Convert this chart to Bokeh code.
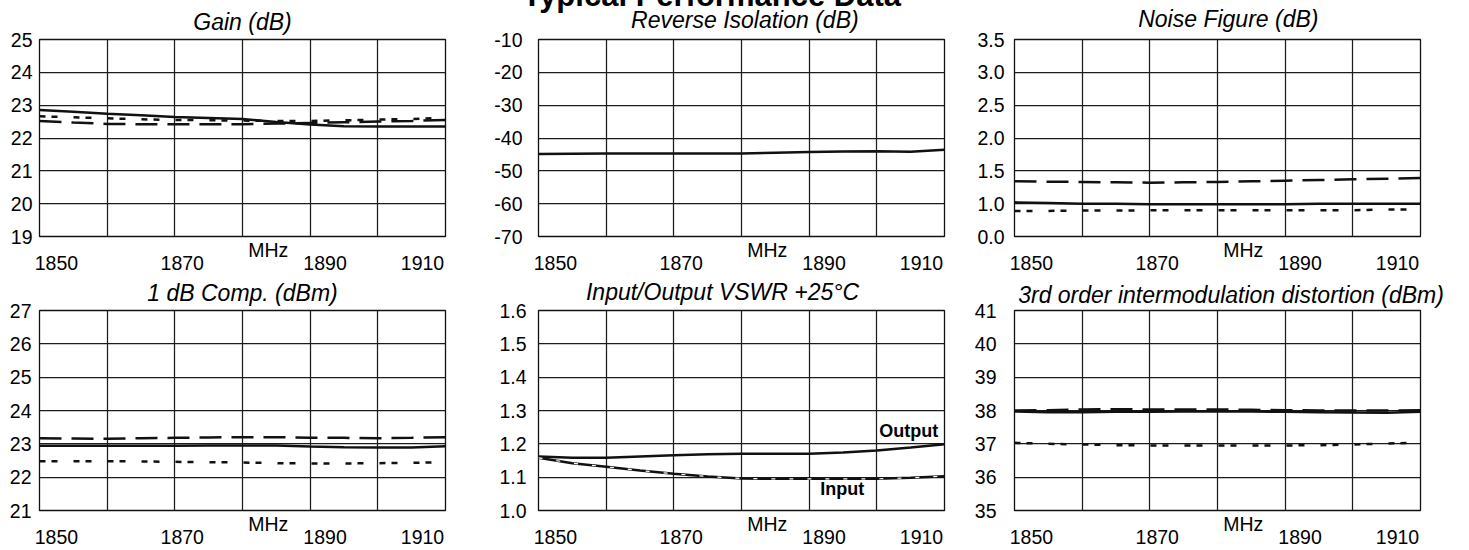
from bokeh.plotting import figure
from bokeh.models import FixedTicker, Label, Range1d
from bokeh.layouts import row, column
from bokeh.embed import file_html
from bokeh.resources import INLINE

# ---------------- data ----------------
freq = [1850, 1855, 1860, 1865, 1870, 1875, 1880, 1885, 1890, 1895, 1900, 1905, 1910]

gain_solid = [22.85, 22.80, 22.74, 22.69, 22.64, 22.61, 22.58, 22.49, 22.41, 22.36, 22.35, 22.35, 22.35]
gain_long = [22.52, 22.47, 22.43, 22.42, 22.42, 22.42, 22.42, 22.44, 22.46, 22.48, 22.50, 22.52, 22.55]
gain_short = [22.66, 22.63, 22.60, 22.57, 22.55, 22.54, 22.53, 22.52, 22.52, 22.54, 22.56, 22.58, 22.62]

iso_solid = [-44.9, -44.8, -44.7, -44.7, -44.7, -44.7, -44.7, -44.5, -44.3, -44.1, -44.0, -44.2, -43.6]

nf_solid = [1.02, 1.01, 1.00, 1.00, 0.99, 0.99, 0.99, 0.99, 0.99, 1.00, 1.00, 1.00, 1.00]
nf_long = [1.34, 1.335, 1.33, 1.325, 1.32, 1.325, 1.33, 1.34, 1.35, 1.36, 1.37, 1.38, 1.39]
nf_short = [0.89, 0.89, 0.895, 0.895, 0.90, 0.90, 0.90, 0.90, 0.90, 0.90, 0.90, 0.91, 0.915]

p1db_solid = [22.94, 22.94, 22.94, 22.94, 22.94, 22.95, 22.95, 22.95, 22.92, 22.90, 22.89, 22.89, 22.93]
p1db_long = [23.17, 23.16, 23.15, 23.17, 23.18, 23.19, 23.20, 23.20, 23.18, 23.18, 23.17, 23.18, 23.20]
p1db_short = [22.48, 22.48, 22.48, 22.47, 22.46, 22.45, 22.44, 22.42, 22.41, 22.41, 22.42, 22.43, 22.45]

vswr_out = [1.162, 1.158, 1.158, 1.162, 1.166, 1.169, 1.170, 1.170, 1.170, 1.174, 1.180, 1.189, 1.199]
vswr_in = [1.158, 1.142, 1.131, 1.120, 1.110, 1.102, 1.096, 1.095, 1.095, 1.095, 1.095, 1.098, 1.103]

imd_solid = [37.97, 37.95, 37.95, 37.96, 37.96, 37.97, 37.97, 37.97, 37.96, 37.95, 37.94, 37.93, 37.96]
imd_long = [38.00, 38.01, 38.03, 38.04, 38.03, 38.03, 38.03, 38.02, 38.01, 38.00, 38.00, 38.00, 38.01]
imd_short = [37.03, 37.00, 36.98, 36.96, 36.95, 36.95, 36.95, 36.95, 36.95, 36.96, 36.98, 37.01, 37.03]

x_tick_labels = ["1850", "1870", "MHz", "1890", "1910"]
x_grid = [1850, 1860, 1870, 1880, 1890, 1900, 1910]

gain_ticks = [19, 20, 21, 22, 23, 24, 25]
gain_labels = ["19", "20", "21", "22", "23", "24", "25"]
iso_ticks = [-70, -60, -50, -40, -30, -20, -10]
iso_labels = ["-70", "-60", "-50", "-40", "-30", "-20", "-10"]
nf_ticks = [0.5, 1.0, 1.5, 2.0, 2.5, 3.0, 3.5]
nf_labels = ["0.0", "1.0", "1.5", "2.0", "2.5", "3.0", "3.5"]
p1db_ticks = [21, 22, 23, 24, 25, 26, 27]
p1db_labels = ["21", "22", "23", "24", "25", "26", "27"]
vswr_ticks = [1.0, 1.1, 1.2, 1.3, 1.4, 1.5, 1.6]
vswr_labels = ["1.0", "1.1", "1.2", "1.3", "1.4", "1.5", "1.6"]
imd_ticks = [35, 36, 37, 38, 39, 40, 41]
imd_labels = ["35", "36", "37", "38", "39", "40", "41"]

# ---------------- style ----------------
FONT = "Liberation Sans"
INK = "#111111"
GRID = "#1c1c1c"
LABEL_POS = [1852.5, 1871.1, 1883.8, 1892.2, 1906.6]   # where the x labels sit
DASH = {"solid": "solid", "long": "22 10", "short": "6 6 6 16"}
FRAME_W, FRAME_H = 406, 200


def panel(title, yticks, ylabels, series, borders, ystand, title_x, title_off, margin_top=0):
    bl, br, bt, bb = borders
    p = figure(width=bl + FRAME_W + br, height=bt + FRAME_H + bb,
               x_range=Range1d(1850, 1910), y_range=Range1d(yticks[0], yticks[-1]),
               output_backend="svg", toolbar_location=None,
               min_border_left=bl, min_border_right=br,
               min_border_top=bt, min_border_bottom=bb,
               margin=(margin_top, 0, 0, 0))
    try:
        p.frame_align = False
    except AttributeError:
        pass
    p.background_fill_color = "white"
    p.border_fill_color = "white"
    p.outline_line_color = INK
    p.outline_line_width = 1.3

    p.xgrid.ticker = FixedTicker(ticks=x_grid)
    p.ygrid.ticker = FixedTicker(ticks=yticks)
    for g in (p.xgrid, p.ygrid):
        g.grid_line_color = GRID
        g.grid_line_width = 1.25

    # "MHz" sits on the first line, the frequency numbers on the second one
    p.xaxis.ticker = FixedTicker(ticks=LABEL_POS)
    p.xaxis.major_label_overrides = {
        pos: (lab if lab == "MHz" else "\n" + lab) for pos, lab in zip(LABEL_POS, x_tick_labels)
    }
    p.xaxis.major_label_standoff = 2
    p.xaxis.major_label_text_line_height = 0.6
    p.yaxis.ticker = FixedTicker(ticks=yticks)
    p.yaxis.major_label_overrides = dict(zip(yticks, ylabels))
    p.yaxis.major_label_standoff = ystand
    for ax in (p.xaxis, p.yaxis):
        ax.axis_line_color = None
        ax.major_tick_line_color = None
        ax.minor_tick_line_color = None
        ax.major_tick_out = 0
        ax.major_label_text_font = FONT
        ax.major_label_text_font_size = "19.5px"
        ax.major_label_text_color = "black"

    for vals, kind in series:
        p.line(freq, vals, line_color=INK, line_width=2.5, line_dash=DASH[kind])

    p.add_layout(Label(x=title_x, y=yticks[-1], y_offset=title_off, text=title,
                       text_align="center", text_baseline="middle",
                       text_font=FONT, text_font_size="23px", text_font_style="italic",
                       text_color="black"), "above")
    return p


p1 = panel("Gain (dB)", gain_ticks, gain_labels,
           [(gain_solid, "solid"), (gain_long, "long"), (gain_short, "short")],
           (39, 30, 39, 37), 7, 1880, 17.5)
p2 = panel("Reverse Isolation (dB)", iso_ticks, iso_labels,
           [(iso_solid, "solid")],
           (63, 26, 62, 37), 16, 1880.5, 20)
p3 = panel("Noise Figure (dB)", nf_ticks, nf_labels,
           [(nf_solid, "solid"), (nf_long, "long"), (nf_short, "short")],
           (44, 49, 39, 37), 10, 1881.6, 21)
p4 = panel("1 dB Comp. (dBm)", p1db_ticks, p1db_labels,
           [(p1db_solid, "solid"), (p1db_long, "long"), (p1db_short, "short")],
           (39, 30, 34, 40), 8, 1880, 18)
p5 = panel("Input/Output VSWR +25°C", vswr_ticks, vswr_labels,
           [(vswr_out, "solid"), (vswr_in, "solid")],
           (63, 26, 34, 40), 12, 1877.2, 19)
p6 = panel("3rd order intermodulation distortion (dBm)", imd_ticks, imd_labels,
           [(imd_solid, "solid"), (imd_long, "long"), (imd_short, "short")],
           (44, 49, 34, 40), 18, 1882, 16)
p2.margin = (-23, 0, 0, 0)

# white dash-dot texture inside the VSWR input trace
p5.line(freq, vswr_in, line_color="white", line_width=1.2, line_dash="4 14")
p5.add_layout(Label(x=1904.7, y=1.24, text="Output", text_align="center",
                    text_baseline="middle", text_font=FONT, text_font_size="18px",
                    text_font_style="bold", text_color="black"))
p5.add_layout(Label(x=1894.9, y=1.066, text="Input", text_align="center",
                    text_baseline="middle", text_font=FONT, text_font_size="18px",
                    text_font_style="bold", text_color="black"))

# main heading, cut by the top edge as in the original
p2.add_layout(Label(x=1875.6, y=-10, y_offset=44.5, text="Typical Performance Data",
                    text_align="center", text_baseline="middle",
                    text_font=FONT, text_font_size="31px", text_font_style="bold",
                    text_color="black"), "above")

layout = column(row(p1, p2, p3), row(p4, p5, p6))

with open("out.html", "w") as f:
    f.write(file_html(layout, INLINE))
